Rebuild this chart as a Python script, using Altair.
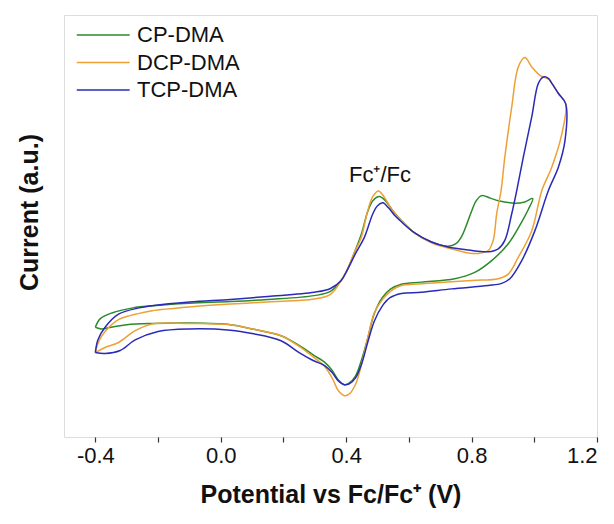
import altair as alt
import pandas as pd

# CP-DMA (green) : potential (V) and current (a.u.)
cp_v = [-0.400, -0.385, -0.347, -0.280, -0.219, -0.100, 0.031, 0.150, 0.298, 0.350,
        0.384, 0.405, 0.425, 0.448, 0.469, 0.485, 0.506, 0.525, 0.550, 0.576,
        0.616, 0.672, 0.725, 0.750, 0.768, 0.785, 0.800, 0.815, 0.832, 0.860,
        0.885, 0.938, 0.970, 0.995,
        0.980, 0.960, 0.917, 0.864, 0.810, 0.746, 0.640, 0.576, 0.540, 0.515,
        0.490, 0.469, 0.450, 0.430, 0.410, 0.394, 0.375, 0.355, 0.330, 0.298,
        0.250, 0.192, 0.100, 0.031, -0.100, -0.219, -0.300, -0.350, -0.380, -0.400]
cp_i = [26.0, 28.0, 29.4, 30.6, 31.1, 31.7, 32.1, 32.6, 33.5, 34.5,
        37.1, 39.8, 43.5, 48.0, 53.5, 56.0, 57.0, 56.0, 53.5, 51.3,
        48.5, 46.2, 45.2, 45.8, 47.5, 50.5, 53.5, 56.0, 57.2, 56.6,
        56.0, 55.4, 55.7, 56.5,
        53.8, 51.0, 45.8, 41.8, 39.0, 37.5, 36.7, 36.2, 35.0, 33.0,
        29.3, 23.5, 18.5, 14.5, 12.8, 12.4, 13.5, 15.8, 17.8, 19.3,
        21.7, 24.0, 25.6, 26.6, 27.0, 26.9, 26.6, 26.0, 25.6, 26.0]

# DCP-DMA (orange)
dcp_v = [-0.400, -0.390, -0.369, -0.326, -0.260, -0.219, -0.100, 0.031, 0.150, 0.298,
         0.350, 0.384, 0.405, 0.425, 0.448, 0.469, 0.485, 0.503, 0.520, 0.545,
         0.576, 0.616, 0.672, 0.725, 0.790, 0.821, 0.853, 0.869, 0.880, 0.894,
         0.906, 0.928, 0.949, 0.970, 0.992, 1.018, 1.045, 1.060, 1.077, 1.100,
         1.088, 1.056, 1.024, 0.992, 0.949, 0.917, 0.885, 0.800, 0.640, 0.576,
         0.544, 0.515, 0.490, 0.469, 0.450, 0.430, 0.410, 0.394, 0.375, 0.355,
         0.330, 0.298, 0.250, 0.192, 0.100, 0.031, -0.100, -0.219, -0.273, -0.326,
         -0.369, -0.400]
dcp_i = [20.0, 22.5, 25.0, 27.8, 29.3, 29.9, 30.8, 31.5, 32.0, 32.7,
         33.8, 37.1, 40.0, 43.5, 47.3, 53.7, 57.0, 58.3, 57.0, 54.0,
         51.3, 48.5, 46.0, 44.8, 43.6, 43.5, 44.2, 46.6, 52.9, 58.4,
         66.3, 78.2, 87.7, 89.9, 87.7, 85.7, 84.8, 83.4, 81.4, 79.0,
         71.9, 64.0, 58.4, 48.9, 42.6, 38.6, 37.5, 37.1, 36.3, 35.9,
         34.7, 32.5, 29.5, 23.5, 17.5, 12.5, 10.2, 9.8, 11.0, 14.0,
         16.8, 18.8, 21.5, 24.0, 25.6, 26.6, 26.9, 26.8, 25.2, 22.4,
         21.2, 20.0]

# TCP-DMA (blue)
tcp_v = [-0.400, -0.392, -0.369, -0.326, -0.260, -0.219, -0.100, 0.031, 0.150, 0.298,
         0.350, 0.384, 0.405, 0.430, 0.458, 0.485, 0.500, 0.517, 0.535, 0.555,
         0.576, 0.616, 0.672, 0.725, 0.790, 0.853, 0.885, 0.906, 0.928, 0.944,
         0.965, 0.992, 1.013, 1.029, 1.045, 1.056, 1.077, 1.100,
         1.098, 1.077, 1.045, 1.002, 0.960, 0.922, 0.896, 0.853, 0.736, 0.640,
         0.576, 0.540, 0.515, 0.490, 0.469, 0.450, 0.430, 0.410, 0.394, 0.375,
         0.355, 0.330, 0.298, 0.250, 0.192, 0.100, 0.031, -0.100, -0.200, -0.273,
         -0.321, -0.369, -0.400]
tcp_i = [20.0, 23.0, 26.0, 29.1, 30.6, 31.1, 32.0, 32.6, 33.3, 34.3,
         35.2, 37.1, 39.8, 43.5, 47.3, 52.9, 54.8, 55.5, 54.3, 52.5,
         51.0, 48.5, 46.2, 45.0, 44.3, 43.9, 44.6, 46.6, 52.9, 58.4,
         66.3, 75.9, 83.8, 85.3, 85.0, 83.8, 81.4, 79.0,
         70.3, 64.0, 58.4, 48.9, 41.8, 37.5, 36.4, 35.9, 35.1, 34.3,
         34.0, 33.0, 31.0, 27.5, 22.5, 17.5, 14.0, 12.6, 12.4, 13.3,
         15.3, 17.0, 18.0, 20.0, 22.8, 24.5, 25.3, 25.6, 25.0, 23.0,
         20.5, 19.8, 20.0]

series_names = ["CP-DMA", "DCP-DMA", "TCP-DMA"]
series_colors = ["#2b8a2b", "#eda135", "#2a2ab8"]

x_ticks = [-0.4, -0.2, 0.0, 0.2, 0.4, 0.6, 0.8, 1.0, 1.2]

annot_text = ["Fc\u207a/Fc"]
annot_v = [0.508]
annot_i = [60.5]

rows = []
for name, vs, cs in zip(series_names, [cp_v, dcp_v, tcp_v], [cp_i, dcp_i, tcp_i]):
    for k, (v, c) in enumerate(zip(vs, cs)):
        rows.append({"series": name, "V": v, "I": c, "idx": k})
df = pd.DataFrame(rows)

font = "Liberation Sans"

lines = alt.Chart(df).mark_line(strokeWidth=1.5, interpolate="catmull-rom").encode(
    x=alt.X("V:Q",
            scale=alt.Scale(domain=[-0.5, 1.2], nice=False, zero=False),
            axis=alt.Axis(title="Potential vs Fc/Fc\u207a (V)", values=x_ticks,
                          labelExpr="abs(round(datum.value*10)) % 4 == 0 ? replace(format(datum.value, '.1f'), '\u2212', '-') : ''",
                          grid=False, domain=False, tickSize=5, tickColor="#333",
                          tickWidth=1.2, labelFontSize=22, labelFont=font,
                          labelColor="#111", labelPadding=3,
                          titleFont=font, titleFontSize=25, titleFontWeight="bold",
                          titleColor="#111", titlePadding=16)),
    y=alt.Y("I:Q",
            scale=alt.Scale(domain=[0, 100], nice=False, zero=False),
            axis=alt.Axis(title="Current (a.u.)", labels=False, ticks=False,
                          domain=False, grid=False, titleFont=font,
                          titleFontSize=25, titleFontWeight="bold", titleColor="#111",
                          titlePadding=22, titleY=197)),
    color=alt.Color("series:N",
                    scale=alt.Scale(domain=series_names, range=series_colors),
                    legend=alt.Legend(title=None, orient="none", legendX=12, legendY=6,
                                      symbolType="M-1,0L3,0", symbolSize=700,
                                      symbolStrokeWidth=1.5, labelFont=font,
                                      labelFontSize=22, labelColor="#111",
                                      labelOffset=33, rowPadding=2.5)),
    order=alt.Order("idx:Q"),
    detail="series:N",
)

annot_df = pd.DataFrame({"V": annot_v, "I": annot_i, "t": annot_text})
annot = alt.Chart(annot_df).mark_text(font=font, fontSize=22, color="#111",
                                      baseline="alphabetic", align="center").encode(
    x="V:Q", y="I:Q", text="t:N")

chart = alt.layer(lines, annot).properties(
    width=533, height=422,
    autosize=alt.AutoSizeParams(type="none"),
    padding={"left": 64, "top": 15, "right": 17, "bottom": 87},
).configure_view(stroke="#333", strokeWidth=1.5).configure(background="white")

chart.save("out.html", embed_options={"renderer": "svg", "actions": False})
